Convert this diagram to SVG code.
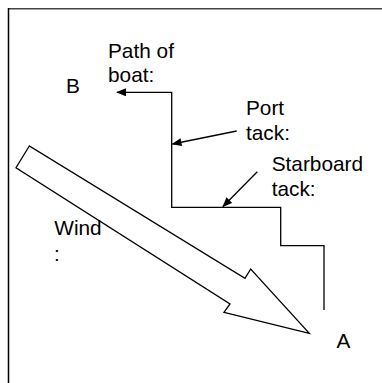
<svg xmlns="http://www.w3.org/2000/svg" width="382" height="383" viewBox="0 0 382 383">
  <style>
    .lbl { font-family: "Liberation Sans", Arial, sans-serif; font-size: 20.8px; fill: #000; }
    .ln { fill: none; stroke: #000; stroke-width: 1.3; }
  </style>
  <defs>
    <marker id="head" markerWidth="10" markerHeight="8" refX="9" refY="4" orient="auto" markerUnits="userSpaceOnUse">
      <path d="M0,0 L10,4 L0,8 Z" fill="#000"/>
    </marker>
  </defs>
  <rect width="382" height="383" fill="#fff"/>

  <!-- frame -->
  <g id="frame">
    <line x1="8" y1="8.7" x2="382" y2="8.7" stroke="#444" stroke-width="1.5"/>
    <line x1="8.5" y1="8" x2="8.5" y2="383" stroke="#000" stroke-width="1.5"/>
  </g>

  <!-- wind arrow -->
  <g id="wind-arrow">
    <polygon class="ln" points="29.3,146 16,167.7 230,304 224,312.3 309.3,333.3 250.7,269 245,278.3"/>
  </g>

  <g id="connectors">
    <!-- path of boat, from A up to B -->
    <polyline class="ln" points="324,310 324,245.7 280.7,245.7 280.7,207.3 171.7,207.3 171.7,92.3 117,92.3" marker-end="url(#head)"/>
    <!-- port tack pointer -->
    <line class="ln" x1="236.7" y1="131" x2="172.5" y2="144" marker-end="url(#head)"/>
    <!-- starboard tack pointer -->
    <line class="ln" x1="257.3" y1="171.7" x2="223" y2="206.5" marker-end="url(#head)"/>
  </g>

  <g id="label-b"><text class="lbl" x="66" y="93.3">B</text></g>
  <g id="label-a"><text class="lbl" x="336.5" y="348.3">A</text></g>
  <g id="label-path">
    <text class="lbl" x="108" y="58">Path of</text>
    <text class="lbl" x="108" y="82">boat:</text>
  </g>
  <g id="label-port">
    <text class="lbl" x="246" y="115">Port</text>
    <text class="lbl" x="246" y="140">tack:</text>
  </g>
  <g id="label-starboard">
    <text class="lbl" x="271.7" y="171">Starboard</text>
    <text class="lbl" x="271.7" y="196">tack:</text>
  </g>
  <g id="label-wind">
    <text class="lbl" x="54.3" y="235">Wind</text>
    <text class="lbl" x="54" y="261">:</text>
  </g>
</svg>
